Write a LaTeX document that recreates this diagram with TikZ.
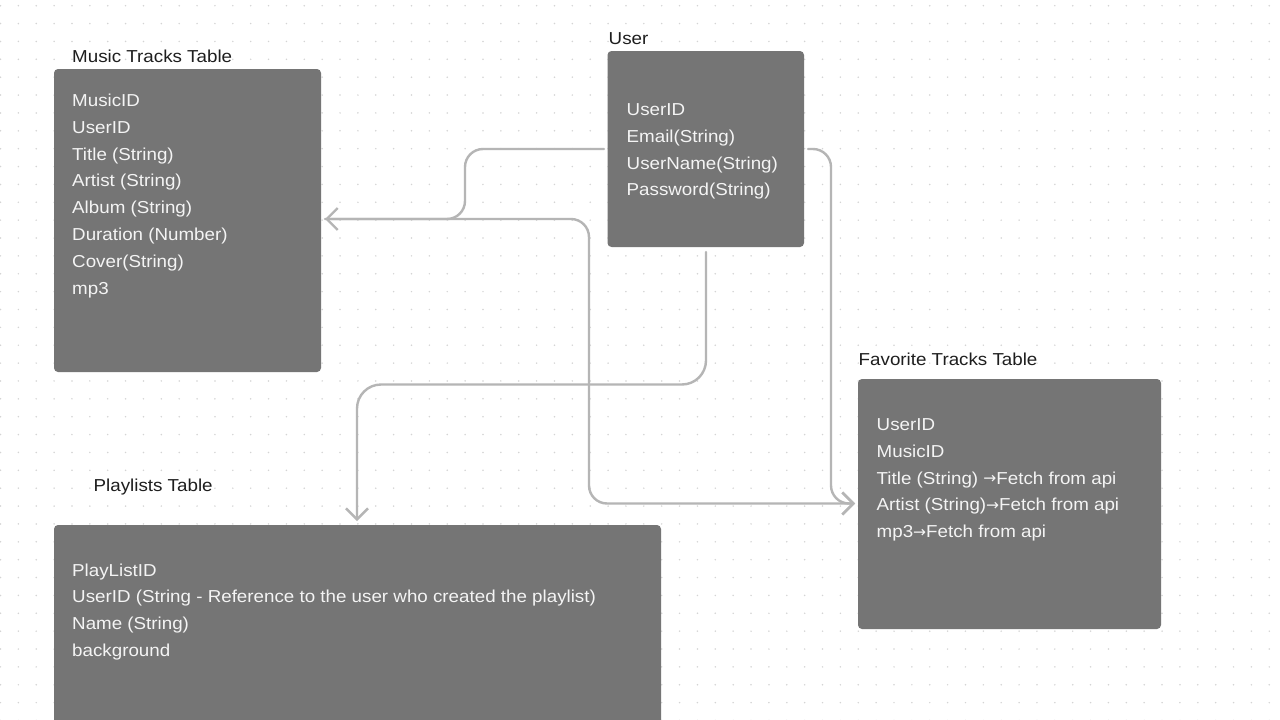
\documentclass[tikz,border=0pt]{standalone}
\usepackage{fontspec}
\setmainfont[FakeStretch=1.085]{Liberation Sans}
\newfontfamily\arrfont{DejaVu Sans}
\newcommand{\rarr}{{\arrfont\fontsize{15.5}{15}\selectfont\raisebox{0.3pt}{→}}}
\usetikzlibrary{arrows.meta}
\definecolor{boxc}{HTML}{757575}
\definecolor{linec}{HTML}{B5B5B5}
\definecolor{dotc}{HTML}{D4D4D4}
\definecolor{titlec}{HTML}{1E1E1E}
\definecolor{txtc}{HTML}{F4F4F4}
\begin{document}
\begin{tikzpicture}[x=1pt,y=-1pt,
  tbox/.style={fill=boxc, draw=none, rounded corners=4pt, anchor=north west, inner sep=0pt, outer sep=0pt},
  ttl/.style={anchor=base west, inner sep=0pt, text=titlec, font=\fontsize{17.3}{20}\selectfont},
  fld/.style={anchor=base west, inner sep=0pt, text=txtc, font=\fontsize{17.3}{20}\selectfont},
  conn/.style={draw=linec, line width=2.4pt, line cap=round, line join=round},
  tip/.style={-{Straight Barb[length=11pt,width=22pt,line width=2.4pt]}}
]
\useasboundingbox (0,0) rectangle (1280,720);
\fill[white] (0,0) rectangle (1280,720);
\foreach \i in {0,...,71}{\foreach \j in {0,...,40}{\fill[dotc] (0.5+\i*17.87, 5.7+\j*17.87) circle (0.85);}}

% boxes
\node[tbox, minimum width=267pt, minimum height=303pt] (music) at (54,69) {};
\node[tbox, minimum width=196.5pt, minimum height=196pt] (user) at (607.5,51) {};
\node[tbox, minimum width=303pt, minimum height=250pt] (fav) at (858,379) {};
\node[tbox, minimum width=607pt, minimum height=205pt] (play) at (54,525) {};

% titles
\node[ttl] (musicT) at (72,62.5) {Music Tracks Table};
\node[ttl] (userT) at (608.5,44) {User};
\node[ttl] (favT) at (858.5,365.5) {Favorite Tracks Table};
\node[ttl] (playT) at (93.5,491.5) {Playlists Table};

% music fields
\foreach \t [count=\k from 0] in {MusicID,UserID,Title (String),Artist (String),Album (String),Duration (Number),Cover(String),mp3}
  \node[fld] (m\k) at (72,106.5+\k*26.8) {\t};
% user fields
\foreach \t [count=\k from 0] in {UserID,Email(String),UserName(String),Password(String)}
  \node[fld] (u\k) at (626.5,115.7+\k*26.7) {\t};
% favorite fields
\node[fld] (f0) at (876.5,430.7) {UserID};
\node[fld] (f1) at (876.5,457.4) {MusicID};
\node[fld] (f2) at (876.5,484.1) {Title (String) \rarr Fetch from api};
\node[fld] (f3) at (876.5,510.8) {Artist (String)\rarr Fetch from api};
\node[fld] (f4) at (876.5,537.5) {mp3\rarr Fetch from api};
% playlist fields
\node[fld] (p0) at (72,576) {PlayListID};
\node[fld] (p1) at (72,602.8) {UserID (String - Reference to the user who created the playlist)};
\node[fld] (p2) at (72,629.6) {Name (String)};
\node[fld] (p3) at (72,656.4) {background};

% connector end points
\coordinate (uW) at (604,149);
\coordinate (uE) at (808,149);
\coordinate (uS) at (706,252);
\coordinate (mE) at (325,219);
\coordinate (fW) at (855,503.5);
\coordinate (pN) at (357,521);

% connectors
\draw[conn, rounded corners=18pt, tip] (mE) -- (589,219) -- (589,503.5) -- (fW);
\draw[conn, rounded corners=18pt, tip] (uW) -- (465,149) -- (465,219) -- (mE);
\draw[conn, rounded corners=24pt, tip] (uS) -- (706,384.5) -- (357,384.5) -- (pN);
\draw[conn, rounded corners=18pt, tip] (uE) -- (831,149) -- (831,503.5) -- (fW);
\end{tikzpicture}
\end{document}
